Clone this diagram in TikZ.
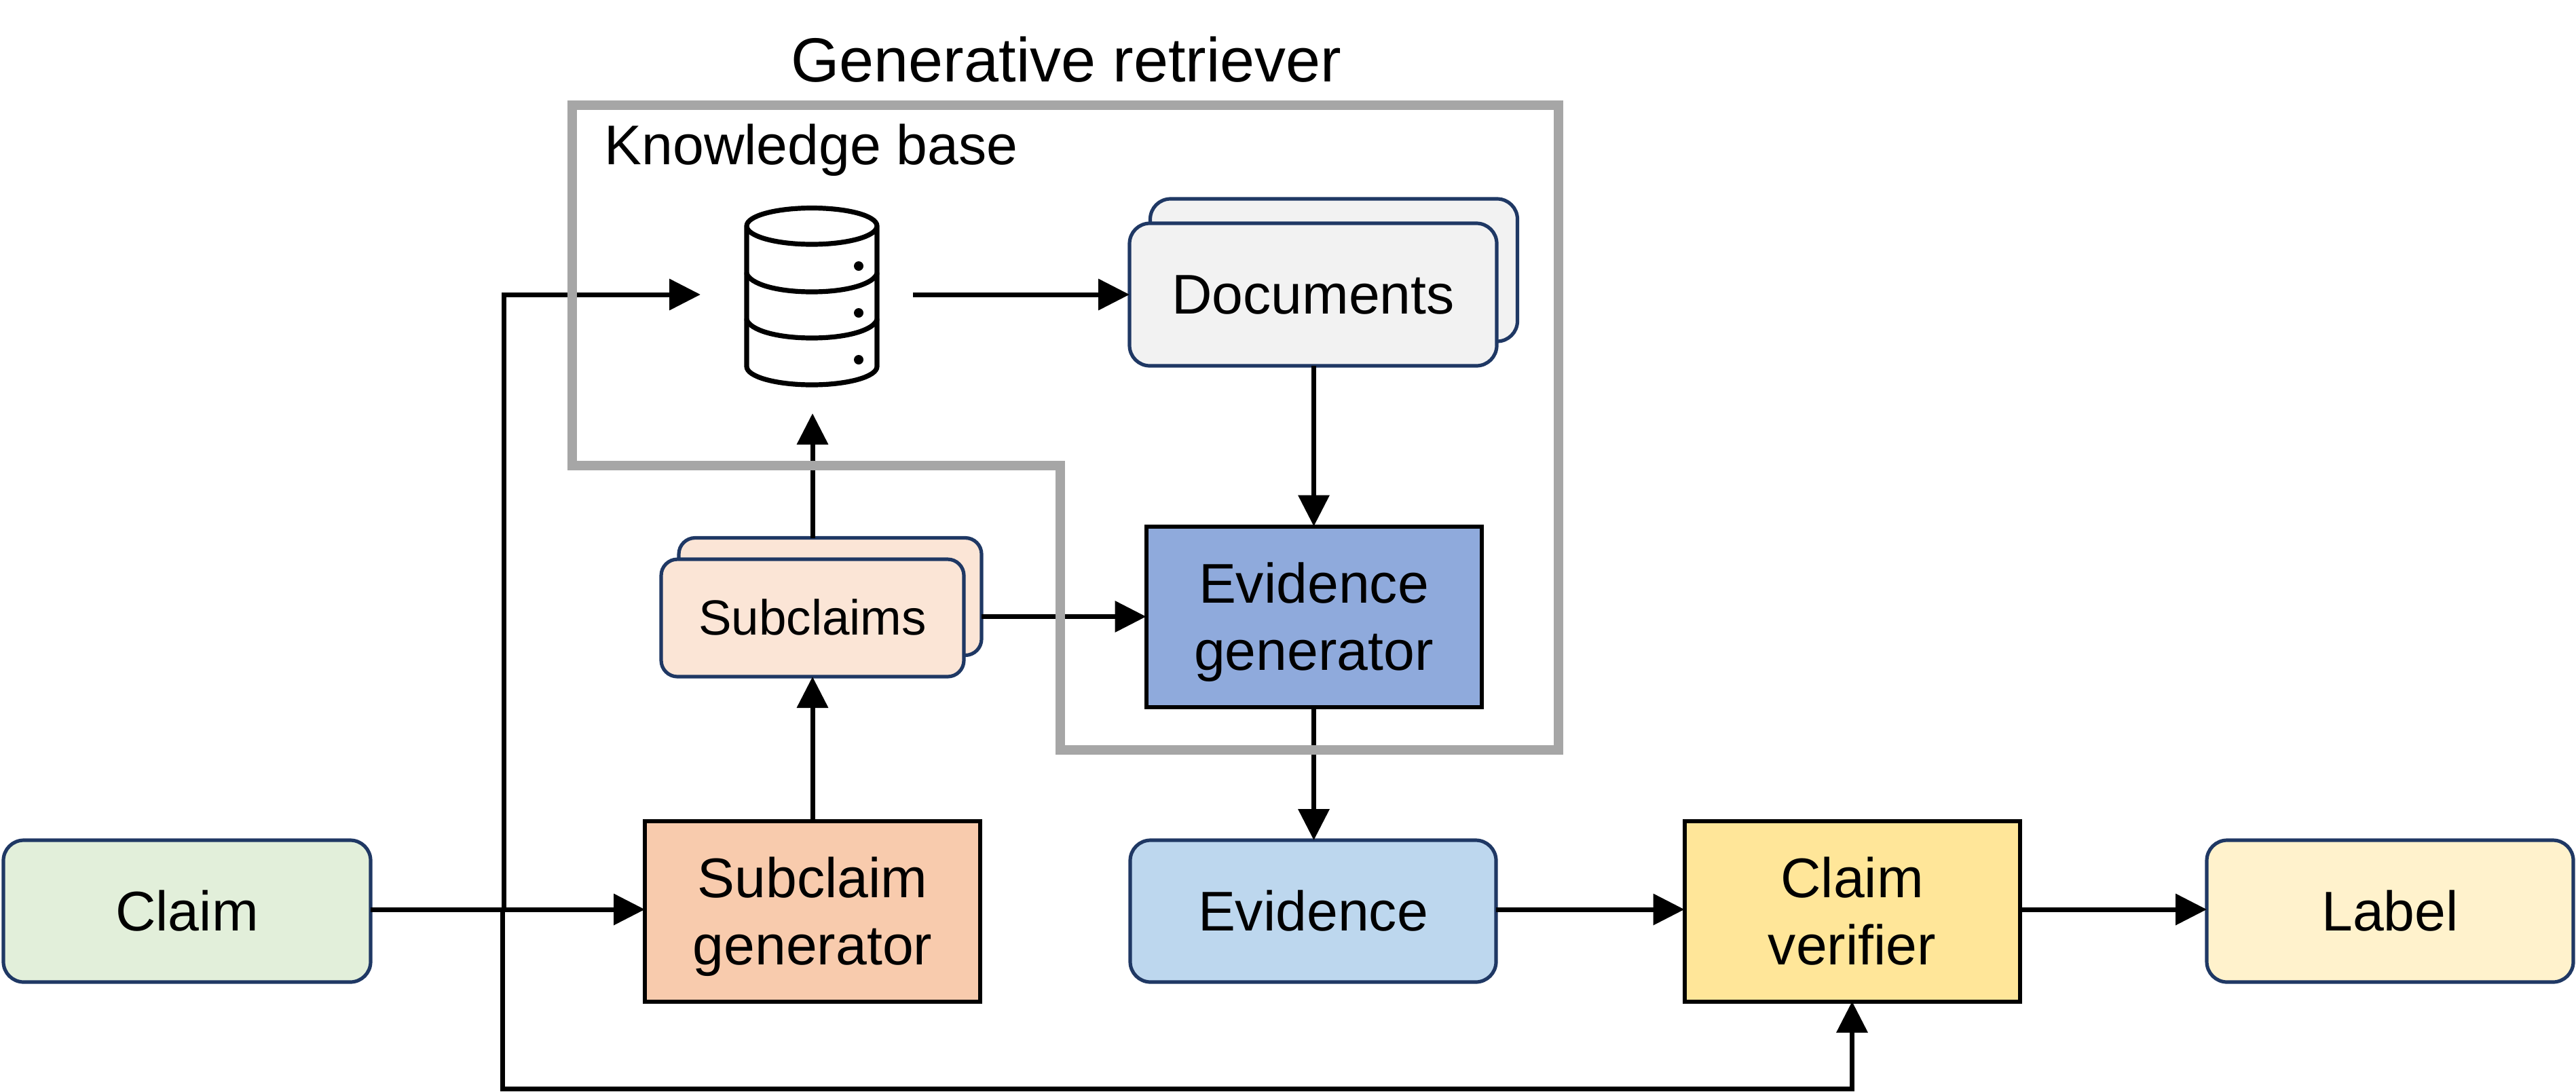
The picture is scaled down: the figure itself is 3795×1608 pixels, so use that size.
\documentclass[tikz,border=0pt]{standalone}
\usepackage{fontspec}
\setmainfont{Liberation Sans}
\usetikzlibrary{arrows.meta}
\definecolor{navy}{HTML}{1F3864}
\definecolor{graybox}{HTML}{A6A6A6}
\tikzset{
  x=0.5pt,y=-0.5pt,
  txt/.style={font=\fontsize{41.2}{49.5}\selectfont,inner sep=0pt,outer sep=0pt,align=center},
  oneline/.style={text height=28.5pt,text depth=0pt},
  twoline/.style={text height=87pt,text depth=8.5pt},
  roundbox/.style={txt,oneline,draw=navy,line width=2.6pt,rounded corners=15pt,minimum width=#1},
  squarebox/.style={txt,twoline,draw=black,line width=3pt,minimum width=247pt,minimum height=133pt},
  conn/.style={draw=black,line width=3.5pt,-{Triangle[length=23pt,width=22.5pt]}},
  frame/.style={draw=graybox,line width=7pt,miter limit=10},
  cyl/.style={draw=black,line width=3.6pt,line join=round,line cap=round}
}
\begin{document}
\begin{tikzpicture}
\useasboundingbox (0,0) rectangle (3795,1608);
% stacked back sheets
\node[roundbox=270.5pt,minimum height=105pt,fill=black!5] (docsback) at (1965,398) {};
\node[roundbox=270.5pt,minimum height=105pt,fill=black!5] (docs) at (1934.5,434) {Documents};
\node[roundbox=223pt,minimum height=86.5pt,rounded corners=12pt,fill={rgb,255:red,251;green,229;blue,214}] (subback) at (1223,879) {};
\node[roundbox=223pt,minimum height=86.5pt,rounded corners=12pt,fill={rgb,255:red,251;green,229;blue,214},font=\fontsize{36.4}{43}\selectfont,text height=25pt] (sub) at (1197,910.5) {Subclaims};
% boxes
\node[roundbox=270.5pt,minimum height=104.5pt,fill={rgb,255:red,226;green,239;blue,218}] (claim) at (275.5,1342.5) {Claim};
\node[squarebox,fill={rgb,255:red,248;green,203;blue,173}] (subgen) at (1197,1342.5) {Subclaim\\generator};
\node[roundbox=269.5pt,minimum height=104.5pt,fill={rgb,255:red,189;green,215;blue,238}] (evid) at (1934.5,1342.5) {Evidence};
\node[squarebox,fill={rgb,255:red,143;green,170;blue,220}] (evgen) at (1935.5,908.5) {Evidence\\generator};
\node[squarebox,fill={rgb,255:red,255;green,230;blue,153}] (verif) at (2728.5,1342.5) {Claim\\verifier};
\node[roundbox=270pt,minimum height=104.5pt,fill={rgb,255:red,255;green,242;blue,204}] (label) at (3521,1342.5) {Label};
% database icon
\coordinate (dbin) at (1032,434);
\coordinate (dbout) at (1345,434);
\coordinate (dbbottom) at (1197,609);
\draw[cyl] (1100,333) .. controls (1100,318) and (1143,306.5) .. (1196,306.5) .. controls (1249,306.5) and (1292,318) .. (1292,333) .. controls (1292,348) and (1249,360) .. (1196,360) .. controls (1143,360) and (1100,348) .. (1100,333) -- (1100,540) .. controls (1100,555) and (1143,567) .. (1196,567) .. controls (1249,567) and (1292,555) .. (1292,540) -- (1292,333);
\draw[cyl] (1100,403) .. controls (1105,418) and (1143,430) .. (1196,430) .. controls (1249,430) and (1287,418) .. (1292,403);
\draw[cyl] (1100,471) .. controls (1105,486) and (1143,498) .. (1196,498) .. controls (1249,498) and (1287,486) .. (1292,471);
\foreach \yy in {392,461,530} \fill (1265,\yy) circle[radius=3.5pt];
% connectors
\coordinate (busa) at (742.5,1340);
\coordinate (busb) at (740,1340);
\coordinate (busbot) at (740,1604);
\draw[conn] (claim.east |- busa) -- (subgen.west |- busa);
\draw[conn] (busa) -- (busa |- dbin) -- (dbin);
\draw[conn] (busb) -- (busbot) -- (busbot -| verif.south) -- (verif.south);
\draw[conn] (dbout) -- (docs.west);
\draw[conn] (docs.south -| evgen.north) -- (evgen.north);
\draw[conn] (subgen.north) -- (sub.south);
\draw[conn] (subback.north -| dbbottom) -- (dbbottom);
\draw[conn] (subback.east |- evgen.west) -- (evgen.west);
\draw[conn] (evgen.south) -- (evid.north -| evgen.south);
\draw[conn] (evid.east |- busa) -- (verif.west |- busa);
\draw[conn] (verif.east |- busa) -- (label.west |- busa);
% frame
\draw[frame] (843,155) -- (2296,155) -- (2296,1105) -- (1562,1105) -- (1562,686) -- (843,686) -- cycle;
% titles
\node[anchor=base,inner sep=0pt,font=\fontsize{45.9}{50}\selectfont] (title) at (1571,120) {Generative retriever};
\node[anchor=base west,inner sep=0pt,font=\fontsize{41.2}{49.5}\selectfont] (kb) at (890,242) {Knowledge base};
\end{tikzpicture}
\end{document}
